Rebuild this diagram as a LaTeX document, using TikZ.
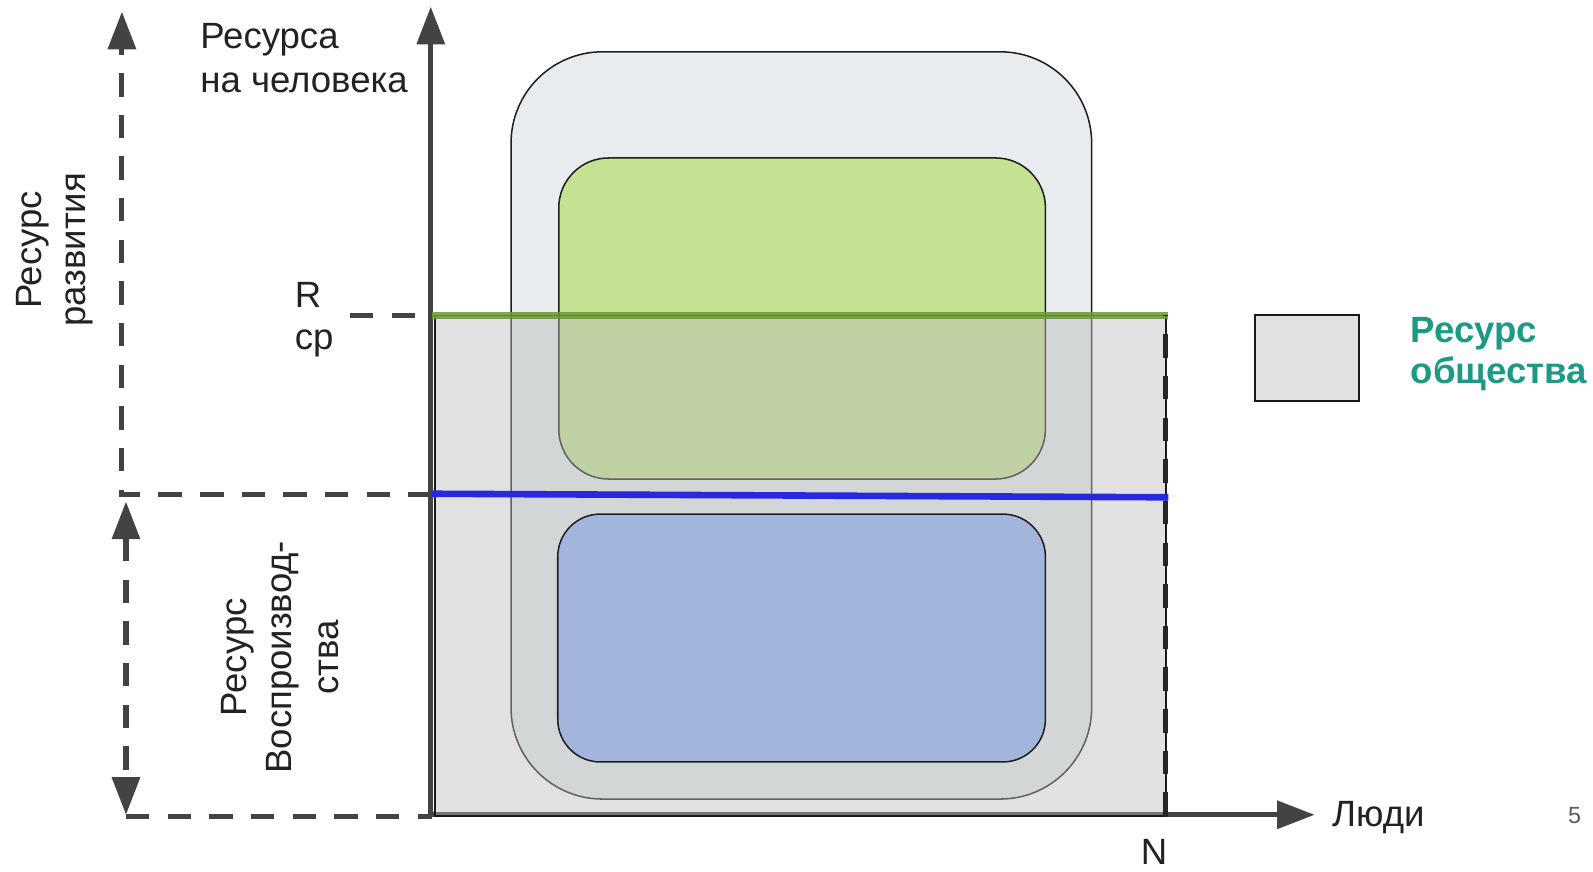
\documentclass[tikz,border=0pt]{standalone}
\usepackage{fontspec}
\setmainfont{Liberation Sans}
\usetikzlibrary{arrows.meta}
\definecolor{axc}{HTML}{434343}
\definecolor{txt}{HTML}{222222}
\definecolor{bigfill}{HTML}{E8ECEE}
\definecolor{greenfill}{HTML}{C4E291}
\definecolor{bluefill}{HTML}{A3B5DD}
\definecolor{ovcol}{RGB}{186,186,186}
\definecolor{legfill}{HTML}{E1E1E1}
\definecolor{greenline}{RGB}{106,152,50}
\definecolor{blueline}{RGB}{40,40,225}
\definecolor{tealtxt}{HTML}{1D9A85}
\definecolor{pagenum}{HTML}{5A5A5A}
\begin{document}
\begin{tikzpicture}[x=1pt,y=-1pt,
  >={Triangle[width=27pt,length=37pt]},
  lbl/.style={font=\fontsize{36}{44}\selectfont, text=txt, inner sep=0pt},
  leg/.style={font=\fontsize{36}{40}\selectfont\bfseries, text=tealtxt, inner sep=0pt},
  dsh/.style={draw=axc, line width=5pt, dash pattern=on 23pt off 18pt},
  axis/.style={draw=axc, line width=5pt},
  box/.style={draw=black!88, line width=1.5pt}]
\useasboundingbox (0,0) rectangle (1568,858);

% rounded areas
\path[box, fill=bigfill, rounded corners=90pt] (503,51) rectangle (1074.5,786.5);
\path[box, fill=greenfill, rounded corners=49pt] (550,155.5) rectangle (1029,471.5);

% coordinates
\coordinate (O) at (424,802);
\coordinate (ytip) at (424,6.6);
\coordinate (xtip) at (1294,802);
\coordinate (devtip) at (120,11.5);
\coordinate (devc) at (120,487);
\coordinate (deva) at (425,487);
\coordinate (reptop) at (124,493.7);
\coordinate (repbot) at (124,802);
\coordinate (repa) at (425,803.5);
\coordinate (repb) at (124,803.5);
\coordinate (rcpa) at (344.5,310.5);
\coordinate (rcpb) at (425,310.5);

% guide dashed lines
\draw[dsh, ->] (deva) -- (devc) -- (devtip);
\draw[dsh, <->] (reptop) -- (repbot);
\draw[dsh] (repb) -- (repa);
\draw[dsh] (rcpa) -- (rcpb);

% axes
\draw[axis, <->] (ytip) -- (O) -- (xtip);

% society resource overlay
\fill[fill=ovcol, fill opacity=0.435] (428,310.5) rectangle (1147.5,803);
\draw[black!90, line width=1.5pt] (428,310.5) rectangle (1147.5,803);
\draw[greenline, line width=6.5pt, opacity=0.85] (425,310.5) -- (1150,310.5);

% reproduction box
\path[box, fill=bluefill, rounded corners=42pt] (549,506) rectangle (1029,750);

% blue line
\draw[blueline, line width=6.5pt] (425,486) -- (1150,489.5);

% right dashed border
\draw[dsh, draw=black!85] (1147.5,803) -- (1147.5,310.5);

% legend
\node[box, draw=black!90, line width=2pt, fill=legfill, minimum width=102.5pt, minimum height=84pt, inner sep=0pt, anchor=north west] (legbox) at (1234,309.5) {};
\node[leg, anchor=base west] (lg1) at (1388.5,337) {Ресурс};
\node[leg, anchor=base west] (lg2) at (1388.5,377) {общества};

% labels
\node[lbl, anchor=base west] (ya1) at (197,47.6) {Ресурса};
\node[lbl, anchor=base west] (ya2) at (197,91.2) {на человека};
\node[lbl, anchor=base west] (r1) at (290,303) {R};
\node[lbl, anchor=base west] (r2) at (290,344.5) {cp};
\node[lbl, anchor=base, rotate=90] (d1) at (41,246) {Ресурс};
\node[lbl, anchor=base, rotate=90] (d2) at (84,246) {развития};
\node[lbl, anchor=base, rotate=90] (v1) at (243,647) {Ресурс};
\node[lbl, anchor=base, rotate=90] (v2) at (287,647) {Воспроизвод-};
\node[lbl, anchor=base, rotate=90] (v3) at (333,647) {ства};
\node[lbl, anchor=base west] (xl) at (1311,813.6) {Люди};
\node[lbl, anchor=base] (nl) at (1136,851) {N};
\node[font=\fontsize{23}{26}\selectfont, text=pagenum, inner sep=0pt, anchor=base] (pg) at (1550,811) {5};
\end{tikzpicture}
\end{document}
